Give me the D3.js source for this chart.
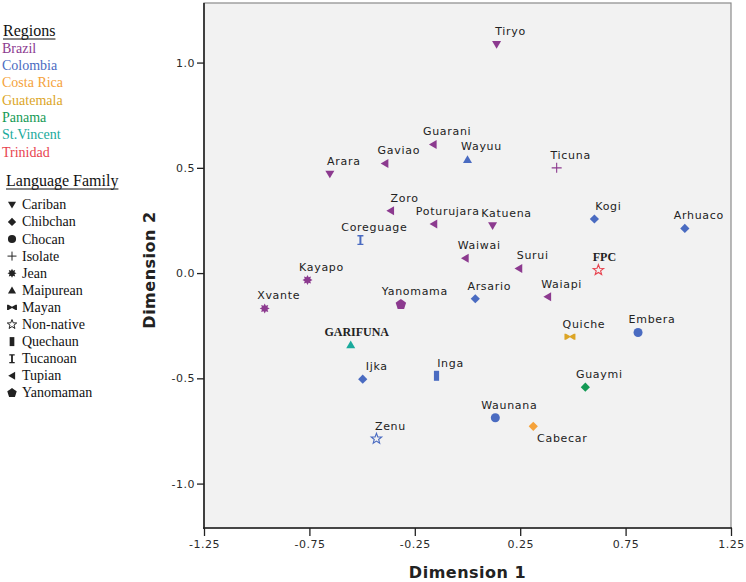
<!DOCTYPE html>
<html><head><meta charset="utf-8">
<script src="https://cdn.jsdelivr.net/npm/d3@7"></script>
<style>body{margin:0;background:#fff;} svg{display:block}</style>
</head><body><svg id="chart" width="746" height="582"></svg>
<script>
// ---------- data ----------
const names  = ["Tiryo","Guarani","Gaviao","Arara","Wayuu","Ticuna","Zoro","Poturujara","Katuena","Coreguage","Kogi","Arhuaco","Waiwai","Surui","FPC","Kayapo","Xvante","Yanomama","Arsario","Waiapi","Quiche","Embera","GARIFUNA","Ijka","Inga","Guaymi","Waunana","Cabecar","Zenu"];
const dim1   = [0.138,-0.163,-0.392,-0.653,0.000,0.423,-0.365,-0.160,0.119,-0.508,0.602,1.031,-0.011,0.243,0.621,-0.759,-0.962,-0.316,0.037,0.380,0.486,0.809,-0.554,-0.497,-0.147,0.559,0.132,0.312,-0.432];
const dim2   = [1.086,0.611,0.521,0.470,0.540,0.500,0.296,0.233,0.225,0.157,0.257,0.212,0.071,0.022,0.014,-0.033,-0.168,-0.149,-0.122,-0.113,-0.302,-0.282,-0.340,-0.504,-0.488,-0.542,-0.687,-0.728,-0.787];
const region = ["Brazil","Brazil","Brazil","Brazil","Colombia","Brazil","Brazil","Brazil","Brazil","Colombia","Colombia","Colombia","Brazil","Brazil","Trinidad","Brazil","Brazil","Brazil","Colombia","Brazil","Guatemala","Colombia","St.Vincent","Colombia","Colombia","Panama","Colombia","Costa Rica","Colombia"];
const family = ["Cariban","Tupian","Tupian","Cariban","Maipurean","Isolate","Tupian","Tupian","Cariban","Tucanoan","Chibchan","Chibchan","Tupian","Tupian","Non-native","Jean","Jean","Yanomaman","Chibchan","Tupian","Mayan","Chocan","Maipurean","Chibchan","Quechaun","Chibchan","Chocan","Chibchan","Non-native"];
const regions  = ["Brazil","Colombia","Costa Rica","Guatemala","Panama","St.Vincent","Trinidad"];
const families = ["Cariban","Chibchan","Chocan","Isolate","Jean","Maipurean","Mayan","Non-native","Quechaun","Tucanoan","Tupian","Yanomaman"];
const xTicks = [-1.25,-0.75,-0.25,0.25,0.75,1.25];
const xTickLabels = ["-1.25","-0.75","-0.25","0.25","0.75","1.25"];
const yTicks = [1.0,0.5,0.0,-0.5,-1.0];
const yTickLabels = ["1.0","0.5","0.0","-0.5","-1.0"];
const highlighted = ["FPC","GARIFUNA"];
const labelBelow = ["Cabecar"];

// ---------- styles ----------
const regionColors = ["#8c3a8f","#4a6bc1","#f5a23a","#dca526","#149a55","#1aaa9c","#e8434f"];
const color = d3.scaleOrdinal().domain(regions).range(regionColors);

const svg = d3.select("#chart");
const L = 204, R = 731, T = 3, B = 528;
const x = d3.scaleLinear().domain([-1.25, 1.25]).range([L, R]);
const y = d3.scaleLinear().domain([-1.211, 1.283]).range([B, T]);

// plot background
svg.append("rect").attr("x", L).attr("y", T).attr("width", R - L).attr("height", B - T)
  .attr("fill", "#f2f2f2").attr("stroke", "#8a8a8a").attr("stroke-width", 1.2);

// axes
const tickFont = g => g.selectAll("text").attr("font-family", "DejaVu Sans").attr("font-size", 11)
  .attr("letter-spacing", 0.5).attr("fill", "#2a2a2a");
const xAxis = svg.append("g").attr("transform", `translate(0,${B})`)
  .call(d3.axisBottom(x).tickValues(xTicks).tickFormat((d, i) => xTickLabels[i]).tickSize(8).tickPadding(4));
xAxis.select(".domain").remove();
xAxis.selectAll("line").attr("stroke", "#222").attr("stroke-width", 1.3);
xAxis.call(tickFont);
const yAxis = svg.append("g").attr("transform", `translate(${L},0)`)
  .call(d3.axisLeft(y).tickValues(yTicks).tickFormat((d, i) => yTickLabels[i]).tickSize(7).tickPadding(2));
yAxis.select(".domain").remove();
yAxis.selectAll("line").attr("stroke", "#222").attr("stroke-width", 1.3);
yAxis.call(tickFont);
svg.append("line").attr("x1", L).attr("x2", L).attr("y1", T).attr("y2", B + 1).attr("stroke", "#222").attr("stroke-width", 1.6);
svg.append("line").attr("x1", L - 1).attr("x2", R + 1).attr("y1", B).attr("y2", B).attr("stroke", "#222").attr("stroke-width", 1.6);

// axis titles
svg.append("text").attr("x", (L + R) / 2).attr("y", 578).attr("text-anchor", "middle")
  .attr("font-family", "DejaVu Sans").attr("font-weight", "bold").attr("font-size", 16)
  .attr("letter-spacing", 0.5).attr("fill", "#222").text("Dimension 1");
svg.append("text").attr("transform", "translate(155,270) rotate(-90)").attr("text-anchor", "middle")
  .attr("font-family", "DejaVu Sans").attr("font-weight", "bold").attr("font-size", 16)
  .attr("letter-spacing", 0.5).attr("fill", "#222").text("Dimension 2");

// ---------- symbol shapes ----------
function starPts(n, ro, ri, rot) {
  const p = [];
  for (let k = 0; k < 2 * n; k++) {
    const r = k % 2 === 0 ? ro : ri;
    const a = rot + k * Math.PI / n;
    p.push([r * Math.sin(a), -r * Math.cos(a)]);
  }
  return "M" + p.map(q => q[0].toFixed(2) + "," + q[1].toFixed(2)).join("L") + "Z";
}
function symbolPath(f) {
  switch (f) {
    case "Cariban":   return "M-4.5,-3.5L4.5,-3.5L0,4.2Z";
    case "Tupian":    return "M3.5,-4.5L3.5,4.5L-4.2,0Z";
    case "Maipurean": return "M-4.5,3.5L4.5,3.5L0,-4.2Z";
    case "Chibchan":  return "M0,-4.6L4.6,0L0,4.6L-4.6,0Z";
    case "Chocan":    return d3.symbol(d3.symbolCircle, 64)();
    case "Isolate":   return "M-5,0H5M0,-5V5";
    case "Jean":      return starPts(8, 5, 3, 0);
    case "Mayan":     return "M-5.5,-3L-4,-3L0,-0.6L4,-3L5.5,-3L5.5,3L4,3L0,0.6L-4,3L-5.5,3Z";
    case "Non-native":return starPts(5, 5.5, 2.3, 0);
    case "Quechaun":  return "M-2.6,-5H2.6V5H-2.6Z";
    case "Tucanoan":  return "M-3,-5H3V-3.6H1V3.6H3V5H-3V3.6H-1V-3.6H-3Z";
    case "Yanomaman": return starPts(5, 5.5, 5.5 * Math.cos(Math.PI / 5), 0);
  }
}
const outlined = f => f === "Isolate" || f === "Non-native";

// ---------- points ----------
const pts = names.map((n, i) => ({ name: n, d1: dim1[i], d2: dim2[i], region: region[i], family: family[i] }));
const pg = svg.append("g");
pg.selectAll("path").data(pts).join("path")
  .attr("transform", d => `translate(${x(d.d1)},${y(d.d2)})`)
  .attr("d", d => symbolPath(d.family))
  .attr("fill", d => outlined(d.family) ? "none" : color(d.region))
  .attr("stroke", d => outlined(d.family) ? color(d.region) : "none")
  .attr("stroke-width", 1.1);

pg.selectAll("text").data(pts).join("text")
  .attr("x", d => x(d.d1) + (labelBelow.includes(d.name) ? 29 : highlighted.includes(d.name) ? 6 : 14))
  .attr("y", d => y(d.d2) + (labelBelow.includes(d.name) ? 16 : -9))
  .attr("text-anchor", "middle")
  .attr("font-family", d => highlighted.includes(d.name) ? "Liberation Serif" : "DejaVu Sans")
  .attr("font-weight", d => highlighted.includes(d.name) ? "bold" : "normal")
  .attr("font-size", d => highlighted.includes(d.name) ? 12 : 11)
  .attr("letter-spacing", d => highlighted.includes(d.name) ? 0 : 0.7)
  .attr("fill", "#222")
  .text(d => d.name);

// ---------- legends ----------
function title(txt, xb, yb) {
  const t = svg.append("text").attr("x", xb).attr("y", yb).attr("font-family", "Liberation Serif")
    .attr("font-size", 16).attr("fill", "#111").text(txt);
  const w = t.node().getComputedTextLength();
  svg.append("line").attr("x1", xb).attr("x2", xb + w).attr("y1", yb + 3).attr("y2", yb + 3)
    .attr("stroke", "#111").attr("stroke-width", 1);
}
title("Regions", 3, 36);
svg.append("g").selectAll("text").data(regions).join("text")
  .attr("x", 2).attr("y", (d, i) => 52.7 + i * 17.35)
  .attr("font-family", "Liberation Serif").attr("font-size", 14)
  .attr("fill", d => color(d)).text(d => d);

title("Language Family", 6, 186);
const lg = svg.append("g");
lg.selectAll("path").data(families).join("path")
  .attr("transform", (d, i) => `translate(12,${209.3 + i * 17.1 - 4.5}) scale(0.9)`)
  .attr("d", d => symbolPath(d))
  .attr("fill", d => outlined(d) ? "none" : "#222")
  .attr("stroke", d => outlined(d) ? "#222" : "none")
  .attr("stroke-width", 1.1);
lg.selectAll("text").data(families).join("text")
  .attr("x", 22).attr("y", (d, i) => 209.3 + i * 17.1)
  .attr("font-family", "Liberation Serif").attr("font-size", 14)
  .attr("fill", "#111").text(d => d);
</script>
</body></html>
